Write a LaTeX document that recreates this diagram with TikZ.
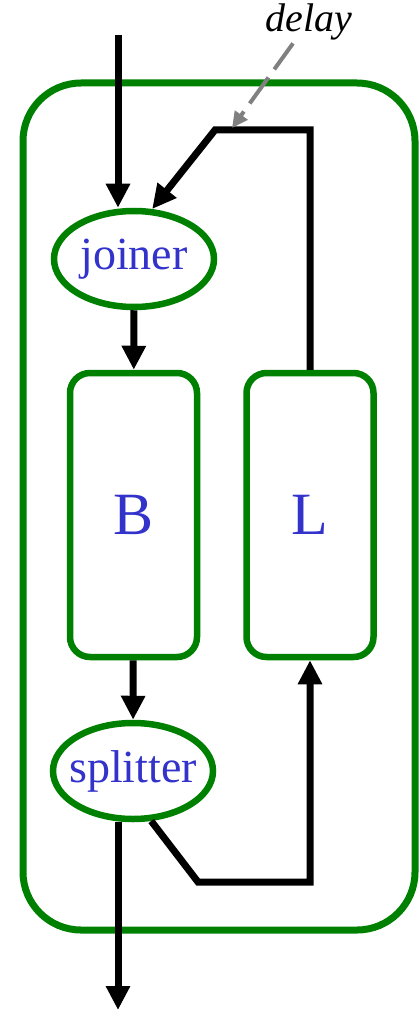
\documentclass[tikz,border=0pt]{standalone}
\usepackage{fontspec}
\setmainfont{Liberation Serif}
\usepackage{xcolor}
\usepackage{tikz}
\usetikzlibrary{arrows.meta,positioning,shapes.geometric,calc}
\definecolor{boxgreen}{RGB}{0,128,0}
\definecolor{labelblue}{RGB}{51,51,204}
\tikzset{
  outerbox/.style={rectangle, rounded corners=58pt, draw=boxgreen, line width=7pt, minimum width=392pt, minimum height=847pt, inner sep=0pt},
  blockbox/.style={rectangle, rounded corners=20pt, draw=boxgreen, line width=6.5pt, fill=white, minimum width=127pt, minimum height=284pt, text=labelblue, font=\fontsize{60}{66}\selectfont},
  blockell/.style={ellipse, draw=boxgreen, line width=6.5pt, fill=white, minimum width=160pt, minimum height=96pt, inner ysep=0pt, inner xsep=-22pt, text=labelblue, font=\fontsize{46}{50}\selectfont},
  flowline/.style={line width=7pt},
  flowarrow/.style={flowline, -{Triangle[length=24pt,width=23pt]}},
  delayarrow/.style={line width=4pt, draw=gray, dash pattern=on 32pt off 10pt, -{Triangle[length=16pt,width=15pt]}}
}
\begin{document}
\begin{tikzpicture}[x=1pt,y=-1pt]
\useasboundingbox (0,0) rectangle (419,1011);
\node[outerbox] (sys) at (219,506.5) {};
\node[blockell] (joiner) at (134,259) {joiner};
\node[blockbox] (B) at (133.5,515) {B};
\node[blockbox] (L) at (310,515) {L};
\node[blockell] (splitter) at (133,771) {splitter};
\node[font=\fontsize{40}{44}\selectfont\itshape, inner sep=0pt] (delay) at (309,22) {delay};

\coordinate (in) at (118,35);
\coordinate (out) at (118,1010);
\coordinate (dly) at (215,130);
\coordinate (mark) at (232,128);
\coordinate (ret) at (198,882);

\draw[flowarrow] (in) -- (in |- joiner.north);
\draw[flowarrow] (L.north) |- (dly) -- (joiner.70);
\draw[flowarrow] (joiner) -- (B);
\draw[flowarrow] (B) -- (splitter);
\draw[flowarrow] (out |- splitter.south) -- (out);
\draw[flowarrow] (splitter.-70) -- (ret) -| (L.south);
\draw[delayarrow] ($(delay.south)+(-16,3)$) -- (mark);
\end{tikzpicture}
\end{document}
